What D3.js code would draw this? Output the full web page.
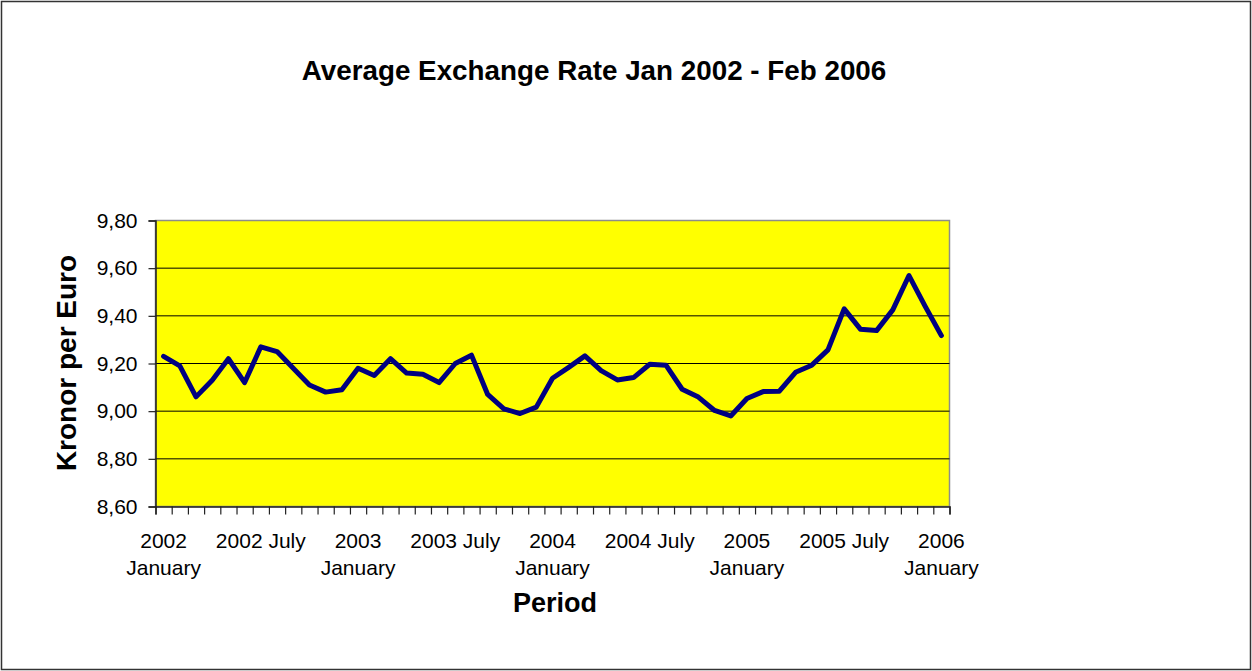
<!DOCTYPE html>
<html>
<head>
<meta charset="utf-8">
<script src="https://cdn.jsdelivr.net/npm/d3@7/dist/d3.min.js"></script>
<style>
  html, body { margin: 0; padding: 0; background: #fff; }
  svg { display: block; }
  text { font-family: "Liberation Sans", Arial, sans-serif; fill: #000; }
</style>
</head>
<body>
<svg id="chart" width="1252" height="671"></svg>
<script>
// Monthly categories, January 2002 through January 2006
const months = [
  "2002-01","2002-02","2002-03","2002-04","2002-05","2002-06","2002-07","2002-08","2002-09","2002-10","2002-11","2002-12",
  "2003-01","2003-02","2003-03","2003-04","2003-05","2003-06","2003-07","2003-08","2003-09","2003-10","2003-11","2003-12",
  "2004-01","2004-02","2004-03","2004-04","2004-05","2004-06","2004-07","2004-08","2004-09","2004-10","2004-11","2004-12",
  "2005-01","2005-02","2005-03","2005-04","2005-05","2005-06","2005-07","2005-08","2005-09","2005-10","2005-11","2005-12",
  "2006-01"
];

// Average rate, kronor per euro
const rates = [
  9.23, 9.19, 9.06, 9.13, 9.22, 9.12, 9.27, 9.25, 9.18, 9.11, 9.08, 9.09,
  9.18, 9.15, 9.22, 9.16, 9.155, 9.12, 9.20, 9.235, 9.07, 9.01, 8.99, 9.017,
  9.138, 9.184, 9.232, 9.17, 9.131, 9.141, 9.197, 9.193, 9.092, 9.059, 9.003, 8.98,
  9.053, 9.082, 9.084, 9.163, 9.193, 9.257, 9.429, 9.344, 9.338, 9.425, 9.569, 9.44,
  9.317
];

// Labelled categories on the period axis
const tickMonths = ["2002-01","2002-07","2003-01","2003-07","2004-01","2004-07","2005-01","2005-07","2006-01"];
const tickLabels = ["2002 January","2002 July","2003 January","2003 July","2004 January","2004 July","2005 January","2005 July","2006 January"];

// Value axis ticks
const yTicks = [8.6, 8.8, 9.0, 9.2, 9.4, 9.6, 9.8];

const svg = d3.select("#chart");
const W = 1252, H = 671;
const plot = { left: 155.5, right: 949.5, top: 220.5, bottom: 506.5 };

const comma = d3.formatLocale({ decimal: ",", thousands: ".", grouping: [3], currency: ["", ""] }).format(".2f");

const x = d3.scaleBand().domain(months).range([plot.left, plot.right]).padding(0);
const xEdge = d3.scaleLinear().domain([0, months.length]).range([plot.left, plot.right]);
const y = d3.scaleLinear().domain([8.6, 9.8]).range([plot.bottom, plot.top]);

// outer frame
svg.append("rect")
  .attr("x", 1.5).attr("y", 1.5).attr("width", W - 3).attr("height", H - 3)
  .attr("fill", "#fff").attr("stroke", "#333").attr("stroke-width", 1.5);

// plot background
svg.append("rect")
  .attr("x", plot.left).attr("y", plot.top)
  .attr("width", plot.right - plot.left).attr("height", plot.bottom - plot.top)
  .attr("fill", "#ffff00").attr("stroke", "#8c8c8c").attr("stroke-width", 1.5);

// horizontal gridlines
svg.append("g")
  .selectAll("line")
  .data(yTicks.filter(v => v > 8.6 && v < 9.8))
  .join("line")
  .attr("x1", plot.left).attr("x2", plot.right)
  .attr("y1", d => y(d)).attr("y2", d => y(d))
  .attr("stroke", "#000").attr("stroke-width", 1);

// value axis
const yAxis = svg.append("g")
  .attr("transform", `translate(${plot.left},0)`)
  .call(d3.axisLeft(y).tickValues(yTicks).tickFormat(comma).tickSize(7).tickPadding(11));
yAxis.select(".domain").attr("stroke", "#222").attr("stroke-width", 1.5);
yAxis.selectAll(".tick line").attr("stroke", "#222").attr("stroke-width", 1.2);
yAxis.selectAll(".tick text")
  .style("font-family", '"Liberation Sans", Arial, sans-serif')
  .style("font-size", "21px").attr("fill", "#000");

// period axis: tick marks between categories
const xAxis = svg.append("g")
  .attr("transform", `translate(0,${plot.bottom})`)
  .call(d3.axisBottom(xEdge).tickValues(d3.range(months.length + 1)).tickFormat("").tickSize(8));
xAxis.select(".domain").attr("stroke", "#222").attr("stroke-width", 1.5);
xAxis.selectAll(".tick line").attr("stroke", "#222").attr("stroke-width", 1.2);

// period labels, wrapped onto two lines where they do not fit
const labelWidth = x.bandwidth() * 6;
const labels = svg.append("g").attr("class", "xlabels");
tickMonths.forEach((m, i) => {
  const cx = x(m) + x.bandwidth() / 2;
  const t = labels.append("text")
    .attr("x", cx).attr("y", 547.5)
    .attr("text-anchor", "middle")
    .style("font-size", "21px");
  const words = tickLabels[i].split(" ");
  let line = [];
  let tspan = t.append("tspan").attr("x", cx).attr("dy", 0);
  words.forEach(w => {
    line.push(w);
    tspan.text(line.join(" "));
    if (tspan.node().getComputedTextLength() > labelWidth && line.length > 1) {
      line.pop();
      tspan.text(line.join(" "));
      line = [w];
      tspan = t.append("tspan").attr("x", cx).attr("dy", 27).text(w);
    }
  });
});

// rate line
const line = d3.line()
  .x((d, i) => x(months[i]) + x.bandwidth() / 2)
  .y(d => y(d));
svg.append("path")
  .datum(rates)
  .attr("d", line)
  .attr("fill", "none")
  .attr("stroke", "#000080")
  .attr("stroke-width", 5)
  .attr("stroke-linejoin", "round")
  .attr("stroke-linecap", "round");

// titles
svg.append("text")
  .attr("x", 594).attr("y", 80)
  .attr("text-anchor", "middle")
  .style("font-size", "27.8px").style("font-weight", "bold")
  .text("Average Exchange Rate Jan 2002 - Feb 2006");

svg.append("text")
  .attr("x", 555).attr("y", 612)
  .attr("text-anchor", "middle")
  .style("font-size", "27px").style("font-weight", "bold")
  .text("Period");

svg.append("text")
  .attr("transform", "translate(76,363) rotate(-90)")
  .attr("text-anchor", "middle")
  .style("font-size", "28px").style("font-weight", "bold")
  .text("Kronor per Euro");
</script>
</body>
</html>
